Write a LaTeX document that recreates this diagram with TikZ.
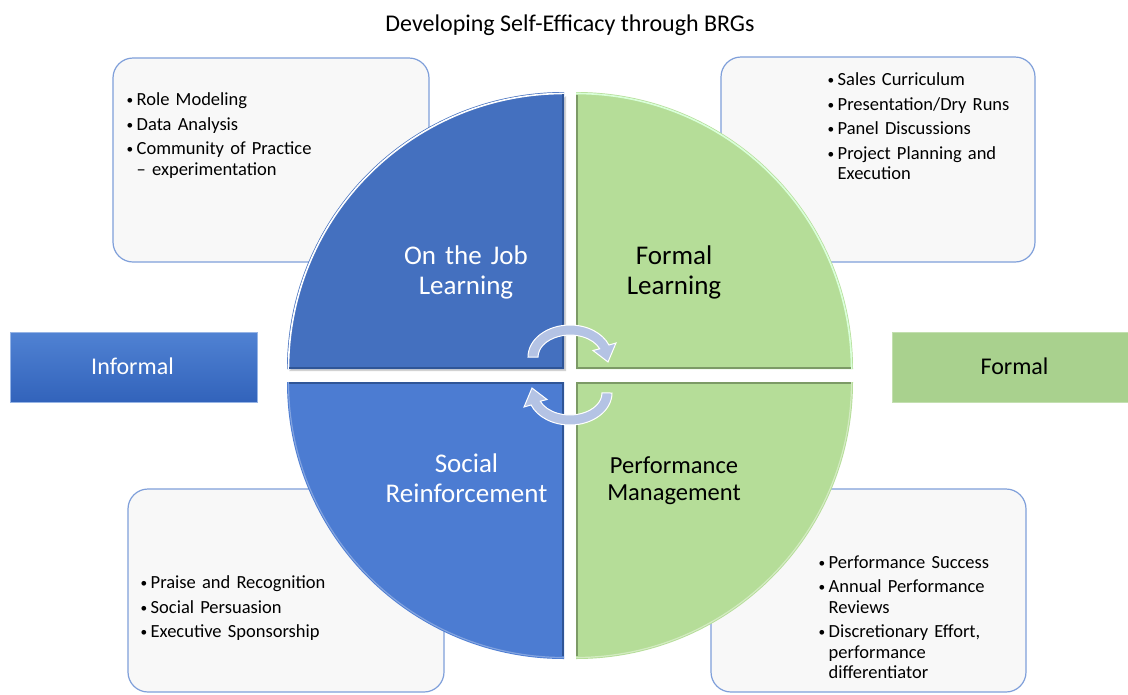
\documentclass[tikz,border=0pt]{standalone}
\usepackage{fontspec}
\setmainfont{Carlito}
\definecolor{tlblue}{HTML}{4470BF}
\definecolor{blblue}{HTML}{4C7CD2}
\definecolor{qgreen}{HTML}{B5DD98}
\definecolor{fgreen}{HTML}{A9D18E}
\definecolor{noteedge}{HTML}{7F9FDA}
\definecolor{notefill}{HTML}{F8F8F8}
\definecolor{cyc}{HTML}{B4C3E4}
\definecolor{blueedge}{HTML}{2F5597}
\definecolor{greenedge}{HTML}{7C9A66}
\definecolor{infotop}{HTML}{5082D3}
\definecolor{infobottom}{HTML}{3263BB}
% one bullet point with a hanging indent
\newcommand\bitem[1]{\par\hangindent=10.5pt\hangafter=1\noindent
  \makebox[10.5pt][l]{\hspace{0.3pt}\raisebox{0.6pt}{\scalebox{0.72}{\textbullet}}}#1\par\vskip4pt}
\begin{document}
\begin{tikzpicture}[x=1pt,y=-1pt,
  note/.style={draw=noteedge,fill=notefill,line width=1.2pt,rounded corners=20pt},
  bullets/.style={anchor=base west,inner sep=0pt,text width=300pt,align=left,
    font=\fontsize{18.5}{20.5}\selectfont},
  qlabel/.style={anchor=base,inner sep=0pt,text width=240pt,align=center,
    font=\fontsize{27}{30}\selectfont},
  sidebox/.style={minimum height=70pt,inner sep=0pt},
  sidetext/.style={anchor=base,inner sep=0pt,font=\fontsize{24}{28}\selectfont},
  cycle arrow/.style={fill=cyc,draw=white,line width=1pt}]
\useasboundingbox (0,0) rectangle (1128,694);
\fill[white] (0,0) rectangle (1128,694);

% title
\node[anchor=base,inner sep=0pt,font=\fontsize{24}{28}\selectfont] (title) at (570,31)
  {Developing Self-Efficacy through BRGs};

% note panels behind the wheel
\draw[note] (113,58) rectangle (429,262);
\draw[note] (721,57) rectangle (1035,262);
\draw[note] (128,489) rectangle (444,692);
\draw[note] (711,489) rectangle (1026,692);

% side banners
\node[sidebox,minimum width=247pt,top color=infotop,bottom color=infobottom,
  draw=infotop!60!white,line width=0.8pt] (informalbox) at (133.5,367) {};
\node[sidetext,text=white] (informal) at (132.5,374) {Informal};
\node[sidebox,minimum width=236pt,fill=fgreen,draw=fgreen!70!white,line width=0.8pt] (formalbox) at (1010,367) {};
\node[sidetext] (formal) at (1014.5,374) {Formal};

% wheel quadrants
\fill[gray!35] (566,96) -- (566,371) -- (289,371) -- cycle;
\fill[tlblue] (564,369) -- (287,369) arc[start angle=180,end angle=270,radius=277] -- cycle;
\fill[qgreen] (576,369) -- (576,92) arc[start angle=270,end angle=360,radius=277] -- cycle;
\fill[qgreen] (576,382) -- (853,382) arc[start angle=0,end angle=90,radius=277] -- cycle;
\fill[blblue] (564,382) -- (564,659) arc[start angle=90,end angle=180,radius=277] -- cycle;

% bevelled rims
\draw[white,line width=1.6pt] (288.5,369) arc[start angle=180,end angle=270,radius=275.5];
\draw[green!15!white,line width=1.6pt] (576,93.5) arc[start angle=270,end angle=360,radius=275.5];
\draw[qgreen!60!white,line width=1.2pt] (851.5,382) arc[start angle=0,end angle=90,radius=275.5];
\draw[blblue!70!white,line width=1.2pt] (564,657.5) arc[start angle=90,end angle=180,radius=275.5];
\draw[blueedge,line width=1.4pt] (563,94) -- (563,368) -- (289,368);
\draw[greenedge,line width=1.2pt] (577,95) -- (577,368) -- (851,368);
\draw[greenedge,line width=1.4pt] (851,383) -- (577,383) -- (577,656);
\draw[blueedge,line width=1.4pt] (289,383) -- (563,383) -- (563,656);

% quadrant titles
\node[qlabel,text=white] (ojl) at (466,264) {On the Job\\Learning};
\node[qlabel] (fl) at (674,264) {Formal\\Learning};
\node[qlabel,text=white] (sr) at (466.5,472) {Social\\Reinforcement};
\node[qlabel,font=\fontsize{24.5}{27}\selectfont] (pm) at (674,473) {Performance\\Management};

% circular arrows in the middle
\path[cycle arrow] (528,357) arc[start angle=180,end angle=338,x radius=42,y radius=32]
  -- (616,343) -- (608,362) -- (593,350.5) -- (599.7,348.8)
  arc[start angle=338,end angle=180,x radius=32,y radius=22] -- cycle;
\path[cycle arrow,rotate around={180:(570,375)}] (528,357) arc[start angle=180,end angle=338,x radius=42,y radius=32]
  -- (616,343) -- (608,362) -- (593,350.5) -- (599.7,348.8)
  arc[start angle=338,end angle=180,x radius=32,y radius=22] -- cycle;

% bullet lists
\node[bullets] (ojllist) at (126,85) {%
  \bitem{Role Modeling}\bitem{Data Analysis}\bitem{Community of Practice\newline – experimentation}};
\node[bullets] (fllist) at (827,65) {%
  \bitem{Sales Curriculum}\bitem{Presentation/Dry Runs}\bitem{Panel Discussions}%
  \bitem{Project Planning and\newline Execution}};
\node[bullets] (srlist) at (140,568) {%
  \bitem{Praise and Recognition}\bitem{Social Persuasion}\bitem{Executive Sponsorship}};
\node[bullets] (pmlist) at (818,547.5) {%
  \bitem{Performance Success}\bitem{Annual Performance\newline Reviews}%
  \bitem{Discretionary Effort,\newline performance\newline differentiator}};
\end{tikzpicture}
\end{document}
